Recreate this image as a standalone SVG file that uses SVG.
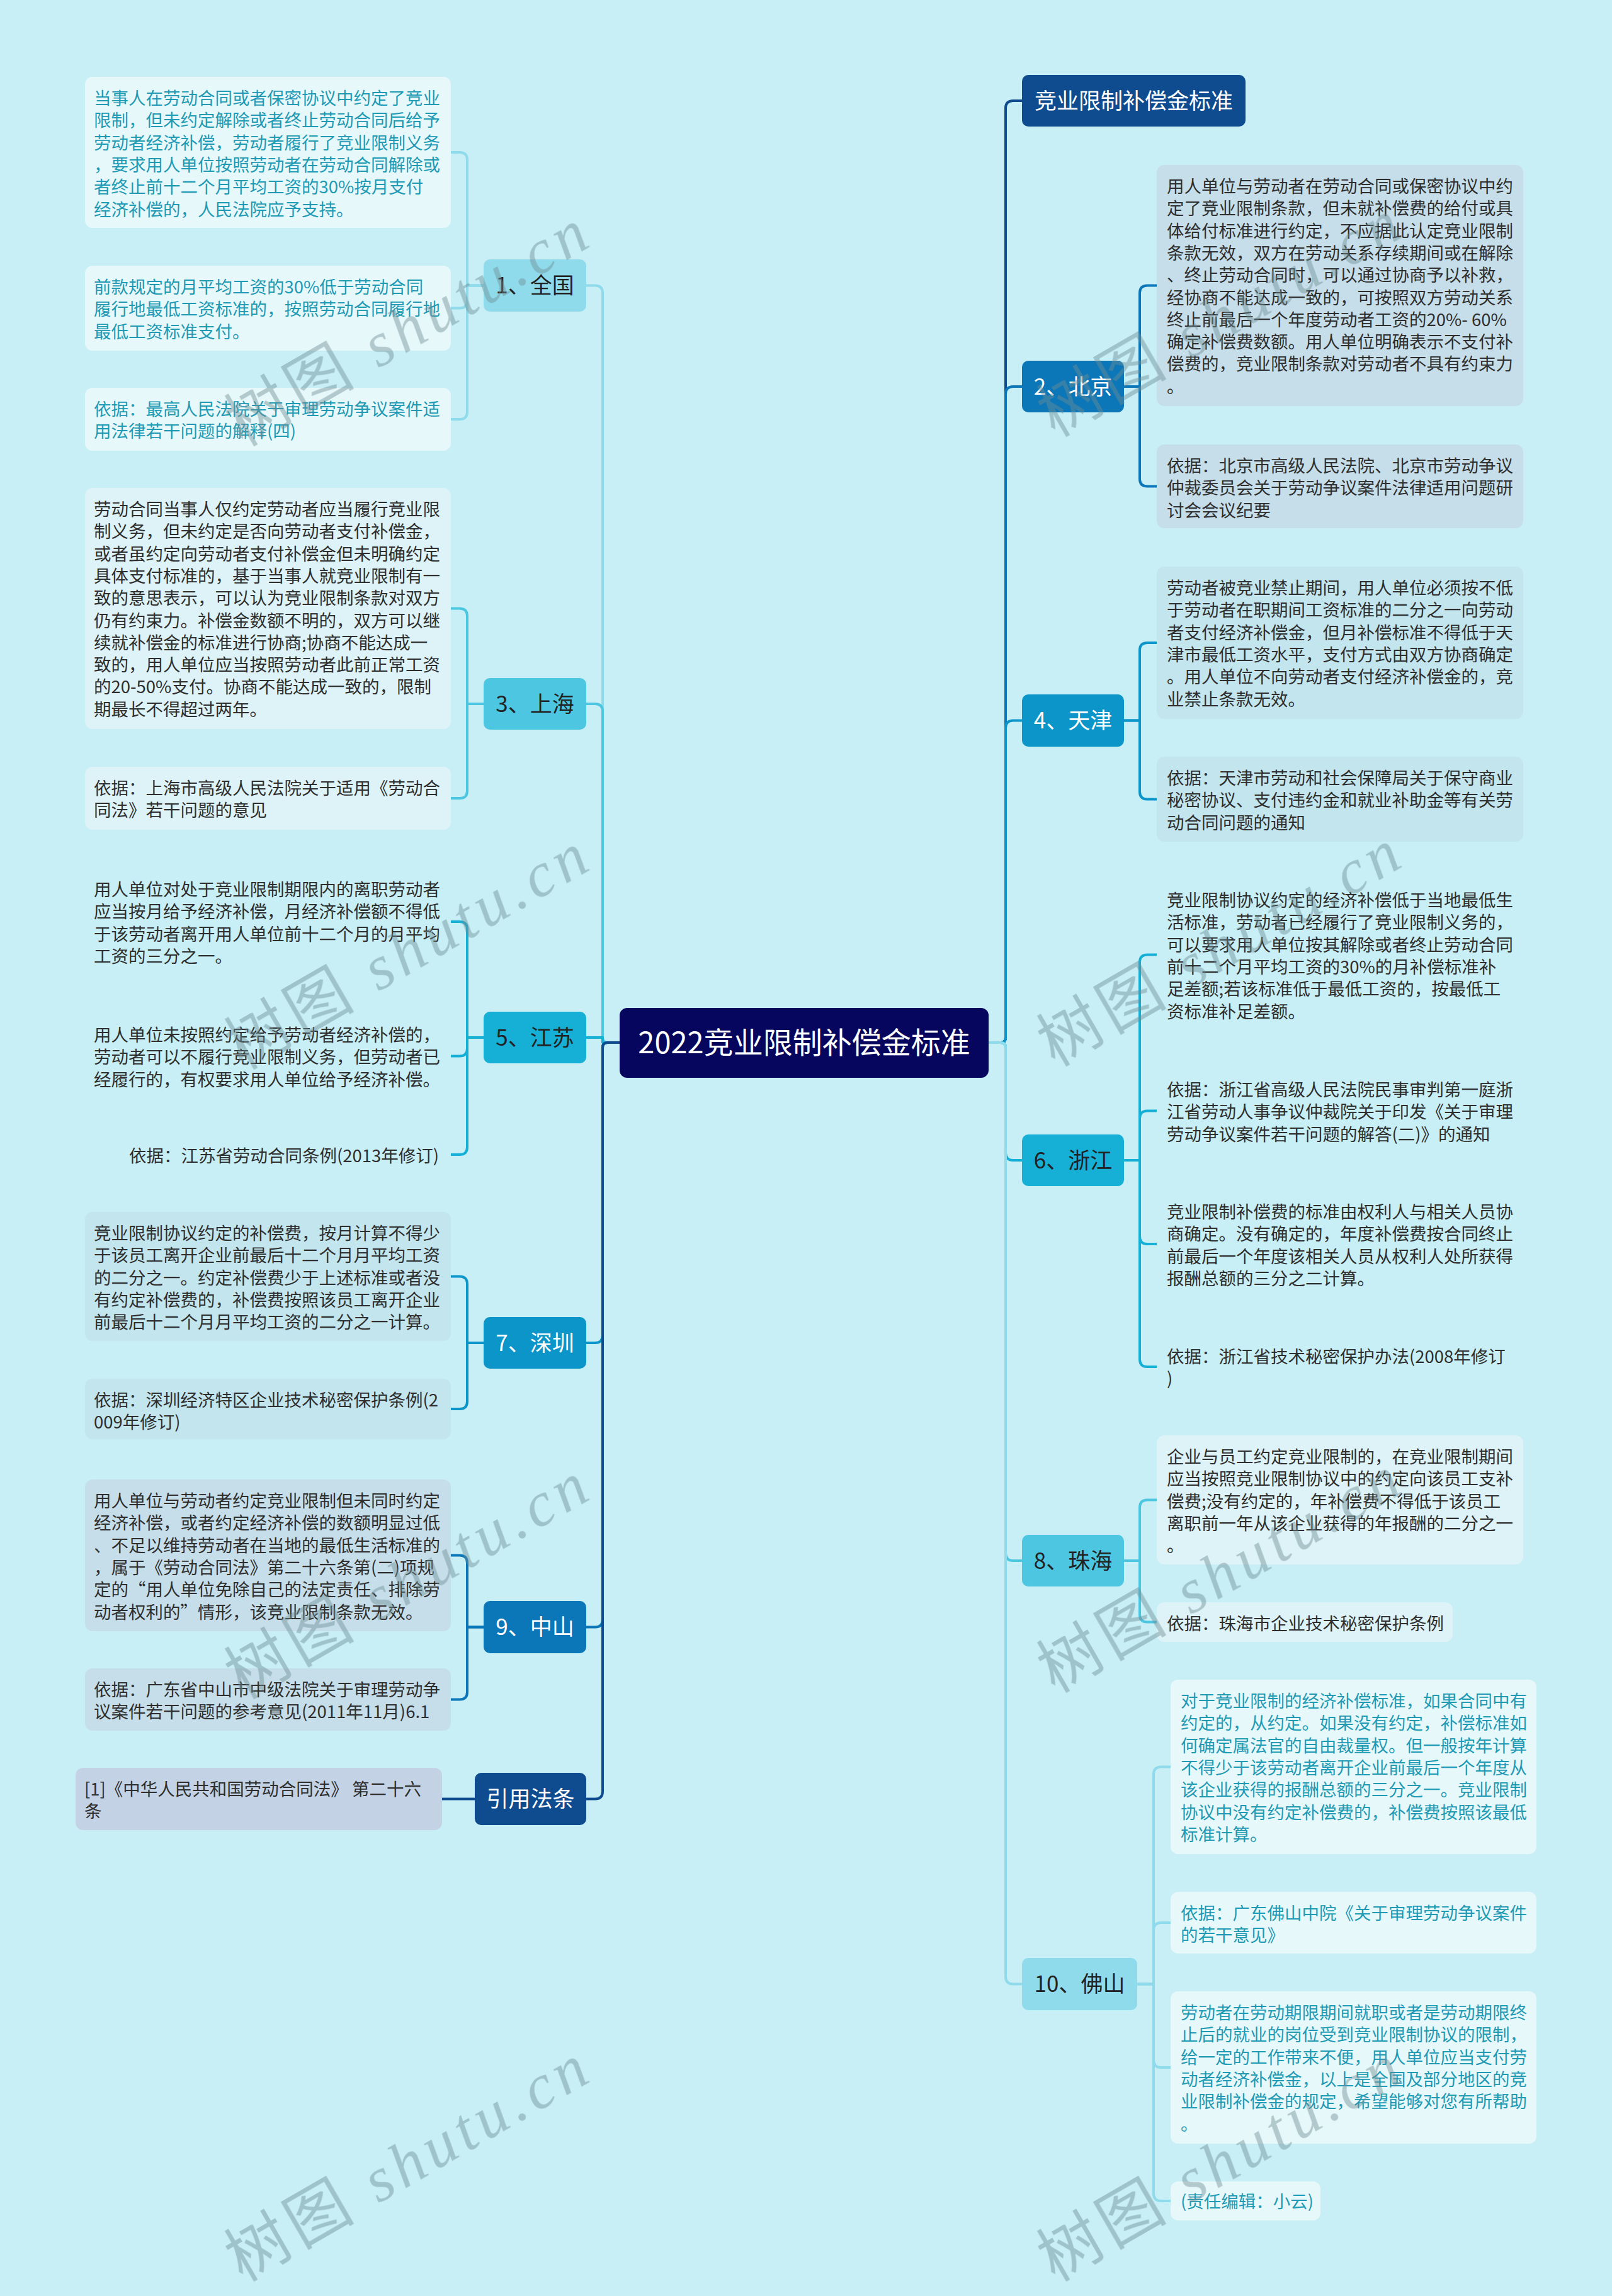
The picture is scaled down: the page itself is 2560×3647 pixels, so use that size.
<svg xmlns="http://www.w3.org/2000/svg" width="2560" height="3647" viewBox="0 0 2560 3647">
<style>
text{font-family:'Noto Sans CJK SC','Noto Sans',sans-serif}
.d{font-size:27.5px;fill:#2e2e2e}
.d1{font-size:27.5px;fill:#1f9ab4}
.l1{font-size:35px;text-anchor:middle}
.dk{fill:#222}
.wt{fill:#fff}
.ln{fill:none;stroke-width:4;stroke-linecap:round;stroke-linejoin:round}
.s1{stroke:#8FDBEC}.s2{stroke:#4CC6E1}.s3{stroke:#16AFD6}.s4{stroke:#0B95C8}.s5{stroke:#0B76B8}.s6{stroke:#0F4B8F}
.f1{fill:#8FDBEC}.f2{fill:#4CC6E1}.f3{fill:#16AFD6}.f4{fill:#0B95C8}.f5{fill:#0B76B8}.f6{fill:#0F4B8F}
.b1{fill:#E7F8FB}.b2{fill:#DDF3F8}.b3{fill:#C8EFF6}.b4{fill:#C2E5EE}.b5{fill:#C6DEEA}.b6{fill:#C3D3E5}
.wm{font-family:'Liberation Serif','Noto Sans CJK SC',serif;font-size:100px;fill:#6f8d93;letter-spacing:8px}
</style>
<rect width="2560" height="3647" fill="#C8EFF6"/>

<g id="connectors">
<path class="ln s1" d="M984,1656 H965 Q957,1656 957,1648 V465.5 Q957,453.5 945,453.5 H931"/>
<path class="ln s2" d="M984,1656 H965 Q957,1656 957,1648 V1130 Q957,1118 945,1118 H931"/>
<path class="ln s3" d="M984,1656 H957 V1648 H931"/>
<path class="ln s4" d="M984,1656 H965 Q957,1656 957,1664 V2121 Q957,2133 945,2133 H931"/>
<path class="ln s5" d="M984,1656 H965 Q957,1656 957,1664 V2572.5 Q957,2584.5 945,2584.5 H931"/>
<path class="ln s6" d="M984,1656 H965 Q957,1656 957,1664 V2845.5 Q957,2857.5 945,2857.5 H931"/>

<path class="ln s6" d="M1570,1656 H1589 Q1597,1656 1597,1648 V172 Q1597,160 1609,160 H1623"/>
<path class="ln s5" d="M1570,1656 H1589 Q1597,1656 1597,1648 V626 Q1597,614 1609,614 H1623"/>
<path class="ln s4" d="M1570,1656 H1589 Q1597,1656 1597,1648 V1156.5 Q1597,1144.5 1609,1144.5 H1623"/>
<path class="ln s3" d="M1570,1656 H1589 Q1597,1656 1597,1664 V1831 Q1597,1843 1609,1843 H1623"/>
<path class="ln s2" d="M1570,1656 H1589 Q1597,1656 1597,1664 V2467 Q1597,2479 1609,2479 H1623"/>
<path class="ln s1" d="M1570,1656 H1589 Q1597,1656 1597,1664 V3139.5 Q1597,3151.5 1609,3151.5 H1623"/>

<path class="ln s1" d="M768,453.5 H742 V254 Q742,242 730,242 H716"/>
<path class="ln s1" d="M768,453.5 H742 V477.5 Q742,489.5 730,489.5 H716"/>
<path class="ln s1" d="M768,453.5 H742 V654 Q742,666 730,666 H716"/>
<path class="ln s2" d="M768,1118 H742 V978.5 Q742,966.5 730,966.5 H716"/>
<path class="ln s2" d="M768,1118 H742 V1256 Q742,1268 730,1268 H716"/>
<path class="ln s3" d="M768,1648 H742 V1476 Q742,1464 730,1464 H716"/>
<path class="ln s3" d="M768,1648 H742 V1665.5 Q742,1677.5 730,1677.5 H716"/>
<path class="ln s3" d="M768,1648 H742 V1822 Q742,1834 730,1834 H716"/>
<path class="ln s4" d="M768,2133 H742 V2039.5 Q742,2027.5 730,2027.5 H716"/>
<path class="ln s4" d="M768,2133 H742 V2226 Q742,2238 730,2238 H716"/>
<path class="ln s5" d="M768,2584.5 H742 V2482.5 Q742,2470.5 730,2470.5 H716"/>
<path class="ln s5" d="M768,2584.5 H742 V2687.5 Q742,2699.5 730,2699.5 H716"/>
<path class="ln s6" d="M754,2857.5 H702"/>

<path class="ln s5" d="M1785,614 H1810 V465.5 Q1810,453.5 1822,453.5 H1837"/>
<path class="ln s5" d="M1785,614 H1810 V760.5 Q1810,772.5 1822,772.5 H1837"/>
<path class="ln s4" d="M1785,1144.5 H1810 V1033 Q1810,1021 1822,1021 H1837"/>
<path class="ln s4" d="M1785,1144.5 H1810 V1257.5 Q1810,1269.5 1822,1269.5 H1837"/>
<path class="ln s3" d="M1785,1843 H1810 V1528.5 Q1810,1516.5 1822,1516.5 H1837"/>
<path class="ln s3" d="M1785,1843 H1810 V1776.5 Q1810,1764.5 1822,1764.5 H1837"/>
<path class="ln s3" d="M1785,1843 H1810 V1964 Q1810,1976 1822,1976 H1837"/>
<path class="ln s3" d="M1785,1843 H1810 V2159 Q1810,2171 1822,2171 H1837"/>
<path class="ln s2" d="M1785,2479 H1810 V2394.5 Q1810,2382.5 1822,2382.5 H1837"/>
<path class="ln s2" d="M1785,2479 H1810 V2564.5 Q1810,2576.5 1822,2576.5 H1837"/>
<path class="ln s1" d="M1806,3151.5 H1832 V2818.5 Q1832,2806.5 1844,2806.5 H1859"/>
<path class="ln s1" d="M1806,3151.5 H1832 V3066 Q1832,3054 1844,3054 H1859"/>
<path class="ln s1" d="M1806,3151.5 H1832 V3272 Q1832,3284 1844,3284 H1859"/>
<path class="ln s1" d="M1806,3151.5 H1832 V3484 Q1832,3496 1844,3496 H1859"/>
</g>

<g id="root">
<rect x="984" y="1601" width="586" height="111" rx="12" fill="#06065E"/>
<text x="1277" y="1673" font-size="47" fill="#fff" text-anchor="middle">2022竞业限制补偿金标准</text>
</g>

<g id="n-quanguo"><rect class="f1" x="768" y="412" width="163" height="83" rx="10"/><text class="l1 dk" x="849.5" y="466">1、全国</text></g>
<g id="n-quanguo-1"><rect class="b1" x="135" y="122" width="581" height="240" rx="12"/>
<text class="d1"><tspan x="149" y="166">当事人在劳动合同或者保密协议中约定了竞业</tspan><tspan x="149" y="201.3">限制，但未约定解除或者终止劳动合同后给予</tspan><tspan x="149" y="236.6">劳动者经济补偿，劳动者履行了竞业限制义务</tspan><tspan x="149" y="271.9">，要求用人单位按照劳动者在劳动合同解除或</tspan><tspan x="149" y="307.2">者终止前十二个月平均工资的30%按月支付</tspan><tspan x="149" y="342.5">经济补偿的，人民法院应予支持。</tspan></text></g>
<g id="n-quanguo-2"><rect class="b1" x="135" y="422" width="581" height="135" rx="12"/>
<text class="d1"><tspan x="149" y="466">前款规定的月平均工资的30%低于劳动合同</tspan><tspan x="149" y="501.3">履行地最低工资标准的，按照劳动合同履行地</tspan><tspan x="149" y="536.6">最低工资标准支付。</tspan></text></g>
<g id="n-quanguo-3"><rect class="b1" x="135" y="616" width="581" height="100" rx="12"/>
<text class="d1"><tspan x="149" y="660">依据：最高人民法院关于审理劳动争议案件适</tspan><tspan x="149" y="695.3">用法律若干问题的解释(四)</tspan></text></g>

<g id="n-shanghai"><rect class="f2" x="768" y="1077" width="163" height="82" rx="10"/><text class="l1 dk" x="849.5" y="1130.5">3、上海</text></g>
<g id="n-shanghai-1"><rect class="b2" x="135" y="775" width="581" height="383" rx="12"/>
<text class="d"><tspan x="149" y="819">劳动合同当事人仅约定劳动者应当履行竞业限</tspan><tspan x="149" y="854.3">制义务，但未约定是否向劳动者支付补偿金，</tspan><tspan x="149" y="889.6">或者虽约定向劳动者支付补偿金但未明确约定</tspan><tspan x="149" y="924.9">具体支付标准的，基于当事人就竞业限制有一</tspan><tspan x="149" y="960.2">致的意思表示，可以认为竞业限制条款对双方</tspan><tspan x="149" y="995.5">仍有约束力。补偿金数额不明的，双方可以继</tspan><tspan x="149" y="1030.8">续就补偿金的标准进行协商;协商不能达成一</tspan><tspan x="149" y="1066.1">致的，用人单位应当按照劳动者此前正常工资</tspan><tspan x="149" y="1101.4">的20-50%支付。协商不能达成一致的，限制</tspan><tspan x="149" y="1136.7">期最长不得超过两年。</tspan></text></g>
<g id="n-shanghai-2"><rect class="b2" x="135" y="1218" width="581" height="100" rx="12"/>
<text class="d"><tspan x="149" y="1262">依据：上海市高级人民法院关于适用《劳动合</tspan><tspan x="149" y="1297.3">同法》若干问题的意见</tspan></text></g>

<g id="n-jiangsu"><rect class="f3" x="768" y="1607" width="163" height="82" rx="10"/><text class="l1 dk" x="849.5" y="1660.5">5、江苏</text></g>
<g id="n-jiangsu-1"><rect class="b3" x="135" y="1379" width="581" height="170" rx="12"/>
<text class="d"><tspan x="149" y="1423">用人单位对处于竞业限制期限内的离职劳动者</tspan><tspan x="149" y="1458.3">应当按月给予经济补偿，月经济补偿额不得低</tspan><tspan x="149" y="1493.6">于该劳动者离开用人单位前十二个月的月平均</tspan><tspan x="149" y="1528.9">工资的三分之一。</tspan></text></g>
<g id="n-jiangsu-2"><rect class="b3" x="135" y="1610" width="581" height="135" rx="12"/>
<text class="d"><tspan x="149" y="1654">用人单位未按照约定给予劳动者经济补偿的，</tspan><tspan x="149" y="1689.3">劳动者可以不履行竞业限制义务，但劳动者已</tspan><tspan x="149" y="1724.6">经履行的，有权要求用人单位给予经济补偿。</tspan></text></g>
<g id="n-jiangsu-3"><rect class="b3" x="191" y="1802" width="525" height="64" rx="12"/>
<text class="d"><tspan x="205" y="1846">依据：江苏省劳动合同条例(2013年修订)</tspan></text></g>

<g id="n-shenzhen"><rect class="f4" x="768" y="2092" width="163" height="82" rx="10"/><text class="l1 wt" x="849.5" y="2145.5">7、深圳</text></g>
<g id="n-shenzhen-1"><rect class="b4" x="135" y="1925" width="581" height="205" rx="12"/>
<text class="d"><tspan x="149" y="1969">竞业限制协议约定的补偿费，按月计算不得少</tspan><tspan x="149" y="2004.3">于该员工离开企业前最后十二个月月平均工资</tspan><tspan x="149" y="2039.6">的二分之一。约定补偿费少于上述标准或者没</tspan><tspan x="149" y="2074.9">有约定补偿费的，补偿费按照该员工离开企业</tspan><tspan x="149" y="2110.2">前最后十二个月月平均工资的二分之一计算。</tspan></text></g>
<g id="n-shenzhen-2"><rect class="b4" x="135" y="2190" width="581" height="96" rx="12"/>
<text class="d"><tspan x="149" y="2234">依据：深圳经济特区企业技术秘密保护条例(2</tspan><tspan x="149" y="2269.3">009年修订)</tspan></text></g>

<g id="n-zhongshan"><rect class="f5" x="768" y="2543" width="163" height="83" rx="10"/><text class="l1 wt" x="849.5" y="2597">9、中山</text></g>
<g id="n-zhongshan-1"><rect class="b5" x="135" y="2350" width="581" height="241" rx="12"/>
<text class="d"><tspan x="149" y="2394">用人单位与劳动者约定竞业限制但未同时约定</tspan><tspan x="149" y="2429.3">经济补偿，或者约定经济补偿的数额明显过低</tspan><tspan x="149" y="2464.6">、不足以维持劳动者在当地的最低生活标准的</tspan><tspan x="149" y="2499.9">，属于《劳动合同法》第二十六条第(二)项规</tspan><tspan x="149" y="2535.2">定的“用人单位免除自己的法定责任、排除劳</tspan><tspan x="149" y="2570.5">动者权利的”情形，该竞业限制条款无效。</tspan></text></g>
<g id="n-zhongshan-2"><rect class="b5" x="135" y="2650" width="581" height="99" rx="12"/>
<text class="d"><tspan x="149" y="2694">依据：广东省中山市中级法院关于审理劳动争</tspan><tspan x="149" y="2729.3">议案件若干问题的参考意见(2011年11月)6.1</tspan></text></g>

<g id="n-yinyong"><rect class="f6" x="754" y="2816" width="177" height="83" rx="10"/><text class="l1 wt" x="842.5" y="2870">引用法条</text></g>
<g id="n-yinyong-1"><rect class="b6" x="120" y="2808" width="582" height="99" rx="12"/>
<text class="d"><tspan x="134" y="2852">[1]《中华人民共和国劳动合同法》 第二十六</tspan><tspan x="134" y="2887.3">条</tspan></text></g>

<g id="n-biaozhun"><rect class="f6" x="1623" y="119" width="355" height="82" rx="10"/><text class="l1 wt" x="1800.5" y="172.5">竞业限制补偿金标准</text></g>

<g id="n-beijing"><rect class="f5" x="1623" y="573" width="162" height="82" rx="10"/><text class="l1 wt" x="1704" y="626.5">2、北京</text></g>
<g id="n-beijing-1"><rect class="b5" x="1837" y="262" width="582" height="383" rx="12"/>
<text class="d"><tspan x="1853" y="306">用人单位与劳动者在劳动合同或保密协议中约</tspan><tspan x="1853" y="341.3">定了竞业限制条款，但未就补偿费的给付或具</tspan><tspan x="1853" y="376.6">体给付标准进行约定，不应据此认定竞业限制</tspan><tspan x="1853" y="411.9">条款无效，双方在劳动关系存续期间或在解除</tspan><tspan x="1853" y="447.2">、终止劳动合同时，可以通过协商予以补救，</tspan><tspan x="1853" y="482.5">经协商不能达成一致的，可按照双方劳动关系</tspan><tspan x="1853" y="517.8">终止前最后一个年度劳动者工资的20%- 60%</tspan><tspan x="1853" y="553.1">确定补偿费数额。用人单位明确表示不支付补</tspan><tspan x="1853" y="588.4">偿费的，竞业限制条款对劳动者不具有约束力</tspan><tspan x="1853" y="623.7">。</tspan></text></g>
<g id="n-beijing-2"><rect class="b5" x="1837" y="706" width="582" height="133" rx="12"/>
<text class="d"><tspan x="1853" y="750">依据：北京市高级人民法院、北京市劳动争议</tspan><tspan x="1853" y="785.3">仲裁委员会关于劳动争议案件法律适用问题研</tspan><tspan x="1853" y="820.6">讨会会议纪要</tspan></text></g>

<g id="n-tianjin"><rect class="f4" x="1623" y="1103" width="162" height="83" rx="10"/><text class="l1 wt" x="1704" y="1157">4、天津</text></g>
<g id="n-tianjin-1"><rect class="b4" x="1837" y="900" width="582" height="242" rx="12"/>
<text class="d"><tspan x="1853" y="944">劳动者被竞业禁止期间，用人单位必须按不低</tspan><tspan x="1853" y="979.3">于劳动者在职期间工资标准的二分之一向劳动</tspan><tspan x="1853" y="1014.6">者支付经济补偿金，但月补偿标准不得低于天</tspan><tspan x="1853" y="1049.9">津市最低工资水平，支付方式由双方协商确定</tspan><tspan x="1853" y="1085.2">。用人单位不向劳动者支付经济补偿金的，竞</tspan><tspan x="1853" y="1120.5">业禁止条款无效。</tspan></text></g>
<g id="n-tianjin-2"><rect class="b4" x="1837" y="1202" width="582" height="135" rx="12"/>
<text class="d"><tspan x="1853" y="1246">依据：天津市劳动和社会保障局关于保守商业</tspan><tspan x="1853" y="1281.3">秘密协议、支付违约金和就业补助金等有关劳</tspan><tspan x="1853" y="1316.6">动合同问题的通知</tspan></text></g>

<g id="n-zhejiang"><rect class="f3" x="1623" y="1802" width="162" height="82" rx="10"/><text class="l1 dk" x="1704" y="1855.5">6、浙江</text></g>
<g id="n-zhejiang-1"><rect class="b3" x="1837" y="1396" width="582" height="241" rx="12"/>
<text class="d"><tspan x="1853" y="1440">竞业限制协议约定的经济补偿低于当地最低生</tspan><tspan x="1853" y="1475.3">活标准，劳动者已经履行了竞业限制义务的，</tspan><tspan x="1853" y="1510.6">可以要求用人单位按其解除或者终止劳动合同</tspan><tspan x="1853" y="1545.9">前十二个月平均工资的30%的月补偿标准补</tspan><tspan x="1853" y="1581.2">足差额;若该标准低于最低工资的，按最低工</tspan><tspan x="1853" y="1616.5">资标准补足差额。</tspan></text></g>
<g id="n-zhejiang-2"><rect class="b3" x="1837" y="1697" width="582" height="135" rx="12"/>
<text class="d"><tspan x="1853" y="1741">依据：浙江省高级人民法院民事审判第一庭浙</tspan><tspan x="1853" y="1776.3">江省劳动人事争议仲裁院关于印发《关于审理</tspan><tspan x="1853" y="1811.6">劳动争议案件若干问题的解答(二)》的通知</tspan></text></g>
<g id="n-zhejiang-3"><rect class="b3" x="1837" y="1891" width="582" height="170" rx="12"/>
<text class="d"><tspan x="1853" y="1935">竞业限制补偿费的标准由权利人与相关人员协</tspan><tspan x="1853" y="1970.3">商确定。没有确定的，年度补偿费按合同终止</tspan><tspan x="1853" y="2005.6">前最后一个年度该相关人员从权利人处所获得</tspan><tspan x="1853" y="2040.9">报酬总额的三分之二计算。</tspan></text></g>
<g id="n-zhejiang-4"><rect class="b3" x="1837" y="2121" width="582" height="100" rx="12"/>
<text class="d"><tspan x="1853" y="2165">依据：浙江省技术秘密保护办法(2008年修订</tspan><tspan x="1853" y="2200.3">)</tspan></text></g>

<g id="n-zhuhai"><rect class="f2" x="1623" y="2438" width="162" height="82" rx="10"/><text class="l1 dk" x="1704" y="2491.5">8、珠海</text></g>
<g id="n-zhuhai-1"><rect class="b2" x="1837" y="2280" width="582" height="205" rx="12"/>
<text class="d"><tspan x="1853" y="2324">企业与员工约定竞业限制的，在竞业限制期间</tspan><tspan x="1853" y="2359.3">应当按照竞业限制协议中的约定向该员工支补</tspan><tspan x="1853" y="2394.6">偿费;没有约定的，年补偿费不得低于该员工</tspan><tspan x="1853" y="2429.9">离职前一年从该企业获得的年报酬的二分之一</tspan><tspan x="1853" y="2465.2">。</tspan></text></g>
<g id="n-zhuhai-2"><rect class="b2" x="1837" y="2545" width="470" height="63" rx="12"/>
<text class="d"><tspan x="1853" y="2589">依据：珠海市企业技术秘密保护条例</tspan></text></g>

<g id="n-foshan"><rect class="f1" x="1623" y="3110" width="183" height="83" rx="10"/><text class="l1 dk" x="1714.5" y="3164">10、佛山</text></g>
<g id="n-foshan-1"><rect class="b1" x="1859" y="2668" width="581" height="277" rx="12"/>
<text class="d1"><tspan x="1875" y="2712">对于竞业限制的经济补偿标准，如果合同中有</tspan><tspan x="1875" y="2747.3">约定的，从约定。如果没有约定，补偿标准如</tspan><tspan x="1875" y="2782.6">何确定属法官的自由裁量权。但一般按年计算</tspan><tspan x="1875" y="2817.9">不得少于该劳动者离开企业前最后一个年度从</tspan><tspan x="1875" y="2853.2">该企业获得的报酬总额的三分之一。竞业限制</tspan><tspan x="1875" y="2888.5">协议中没有约定补偿费的，补偿费按照该最低</tspan><tspan x="1875" y="2923.8">标准计算。</tspan></text></g>
<g id="n-foshan-2"><rect class="b1" x="1859" y="3005" width="581" height="98" rx="12"/>
<text class="d1"><tspan x="1875" y="3049">依据：广东佛山中院《关于审理劳动争议案件</tspan><tspan x="1875" y="3084.3">的若干意见》</tspan></text></g>
<g id="n-foshan-3"><rect class="b1" x="1859" y="3163" width="581" height="242" rx="12"/>
<text class="d1"><tspan x="1875" y="3207">劳动者在劳动期限期间就职或者是劳动期限终</tspan><tspan x="1875" y="3242.3">止后的就业的岗位受到竞业限制协议的限制，</tspan><tspan x="1875" y="3277.6">给一定的工作带来不便，用人单位应当支付劳</tspan><tspan x="1875" y="3312.9">动者经济补偿金，以上是全国及部分地区的竞</tspan><tspan x="1875" y="3348.2">业限制补偿金的规定，希望能够对您有所帮助</tspan><tspan x="1875" y="3383.5">。</tspan></text></g>
<g id="n-foshan-4"><rect class="b1" x="1859" y="3465" width="238" height="62" rx="12"/>
<text class="d1"><tspan x="1875" y="3507">(责任编辑：小云)</tspan></text></g>

<g id="watermark" opacity="0.45">
<text class="wm" transform="translate(385,710) rotate(-30)">树图 <tspan font-style="italic">shutu.cn</tspan></text>
<text class="wm" transform="translate(385,1700) rotate(-30)">树图 <tspan font-style="italic">shutu.cn</tspan></text>
<text class="wm" transform="translate(385,2700) rotate(-30)">树图 <tspan font-style="italic">shutu.cn</tspan></text>
<text class="wm" transform="translate(385,3625) rotate(-30)">树图 <tspan font-style="italic">shutu.cn</tspan></text>
<text class="wm" transform="translate(1675,695) rotate(-30)">树图 <tspan font-style="italic">shutu.cn</tspan></text>
<text class="wm" transform="translate(1675,1695) rotate(-30)">树图 <tspan font-style="italic">shutu.cn</tspan></text>
<text class="wm" transform="translate(1675,2690) rotate(-30)">树图 <tspan font-style="italic">shutu.cn</tspan></text>
<text class="wm" transform="translate(1675,3625) rotate(-30)">树图 <tspan font-style="italic">shutu.cn</tspan></text>
</g>
</svg>
